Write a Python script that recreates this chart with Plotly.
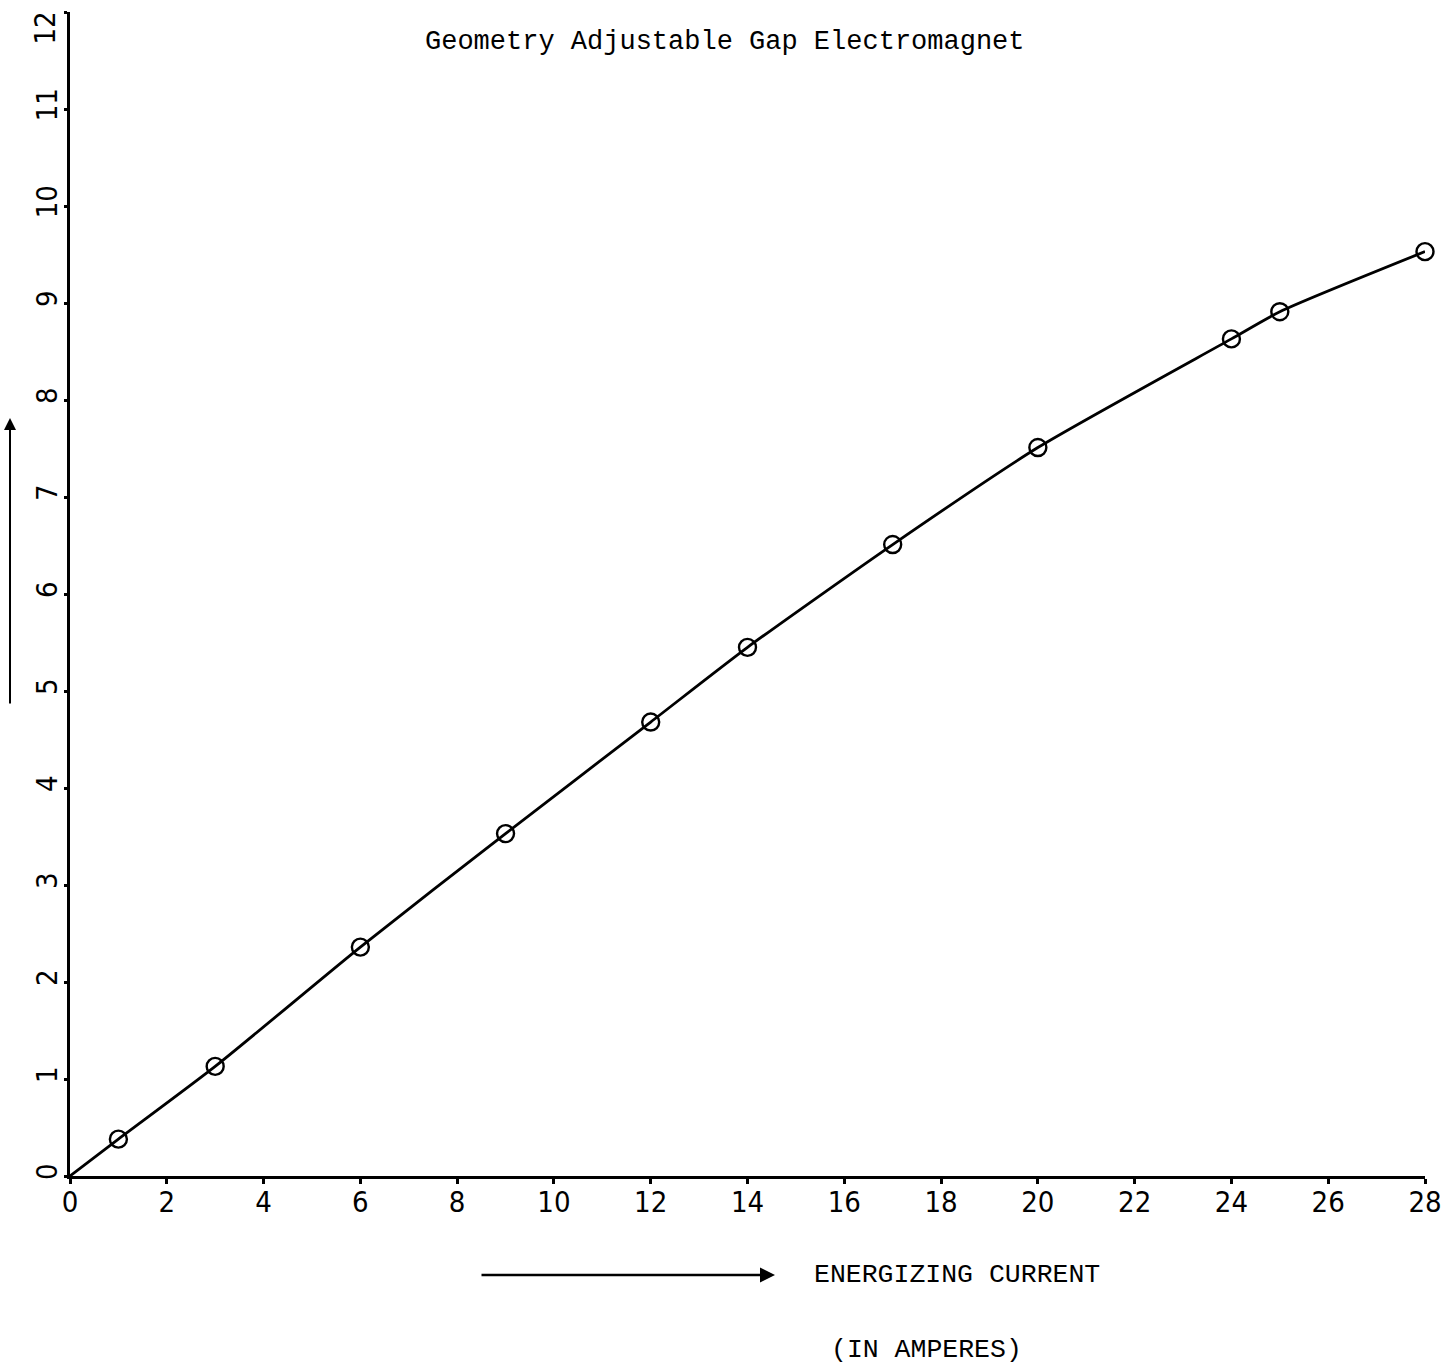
import plotly.graph_objects as go

# Data
current_a = [1, 3, 6, 9, 12, 14, 17, 20, 24, 25, 28]
field = [0.38, 1.13, 2.36, 3.53, 4.68, 5.45, 6.51, 7.51, 8.63, 8.91, 9.53]
curve_x = [0] + current_a
curve_y = [0] + field
x_ticks = list(range(0, 29, 2))
y_ticks = list(range(0, 13))
y_top_label = 12  # drawn separately, shifted down as in the reference

title_text = "Geometry Adjustable Gap Electromagnet"
xlabel_1 = "ENERGIZING CURRENT"
xlabel_2 = "(IN AMPERES)"

W, H = 1446, 1370
L, R, T, B = 70, 21, 12, 194
pw, ph = W - L - R, H - T - B

def px(xp):
    return (xp - L) / pw

def py(yp):
    return (H - B - yp) / ph

mono = "Liberation Mono, DejaVu Sans Mono, monospace"
tickfont = dict(family="DejaVu Sans Condensed, Liberation Sans Narrow, sans-serif", size=29, color="black")

fig = go.Figure()
fig.add_trace(go.Scatter(x=curve_x, y=curve_y, mode="lines",
                         line=dict(color="black", width=2.8, shape="spline", smoothing=0.6),
                         hoverinfo="skip", showlegend=False))
fig.add_trace(go.Scatter(x=current_a, y=field, mode="markers",
                         marker=dict(symbol="circle-open", size=17, color="black", line=dict(width=2.4)),
                         showlegend=False, cliponaxis=False))

fig.update_xaxes(range=[0, 28], tickvals=x_ticks, ticktext=[str(v) for v in x_ticks],
                 showgrid=False, zeroline=False, showline=True, linecolor="black", linewidth=2.5,
                 ticks="outside", ticklen=5, tickwidth=3, tickcolor="black", automargin=False,
                 tickfont=tickfont, ticklabelstandoff=-7, ticklabeloverflow="allow")
fig.update_yaxes(range=[0, 12], tickvals=y_ticks,
                 ticktext=[("" if v == y_top_label else str(v)) for v in y_ticks],
                 showgrid=False, zeroline=False, showline=True, linecolor="black", linewidth=2.5,
                 ticks="outside", ticklen=3, tickwidth=3, tickcolor="black", automargin=False,
                 tickangle=-90, tickfont=tickfont, ticklabelstandoff=-4, ticklabeloverflow="allow")

annotations = [
    dict(text=str(y_top_label), x=0, y=y_top_label, xref="paper", yref="y", showarrow=False,
         xanchor="right", yanchor="top", xshift=-7, yshift=2, textangle=-90, font=tickfont),
    dict(text=title_text, x=px(725), y=py(42), xref="paper", yref="paper", showarrow=False,
         xanchor="center", yanchor="middle", font=dict(family=mono, size=27, color="black")),
    dict(text=xlabel_1, x=px(812), y=py(1275), xref="paper", yref="paper", showarrow=False,
         xanchor="left", yanchor="middle", font=dict(family=mono, size=26.5, color="black")),
    dict(text=xlabel_2, x=px(829), y=py(1350), xref="paper", yref="paper", showarrow=False,
         xanchor="left", yanchor="middle", font=dict(family=mono, size=26.5, color="black")),
    dict(text="", x=px(775), y=py(1275), xref="paper", yref="paper", showarrow=True,
         ax=-295, ay=0, axref="pixel", ayref="pixel", arrowhead=2, arrowsize=1.2,
         arrowwidth=2.5, arrowcolor="black"),
    dict(text="", x=px(10), y=py(418), xref="paper", yref="paper", showarrow=True,
         ax=0, ay=287, axref="pixel", ayref="pixel", arrowhead=2, arrowsize=1.2,
         arrowwidth=2, arrowcolor="black"),
]

fig.update_layout(width=W, height=H, margin=dict(l=L, r=R, t=T, b=B, autoexpand=False),
                  paper_bgcolor="white", plot_bgcolor="white", annotations=annotations,
                  showlegend=False)

fig.write_html("out.html")
